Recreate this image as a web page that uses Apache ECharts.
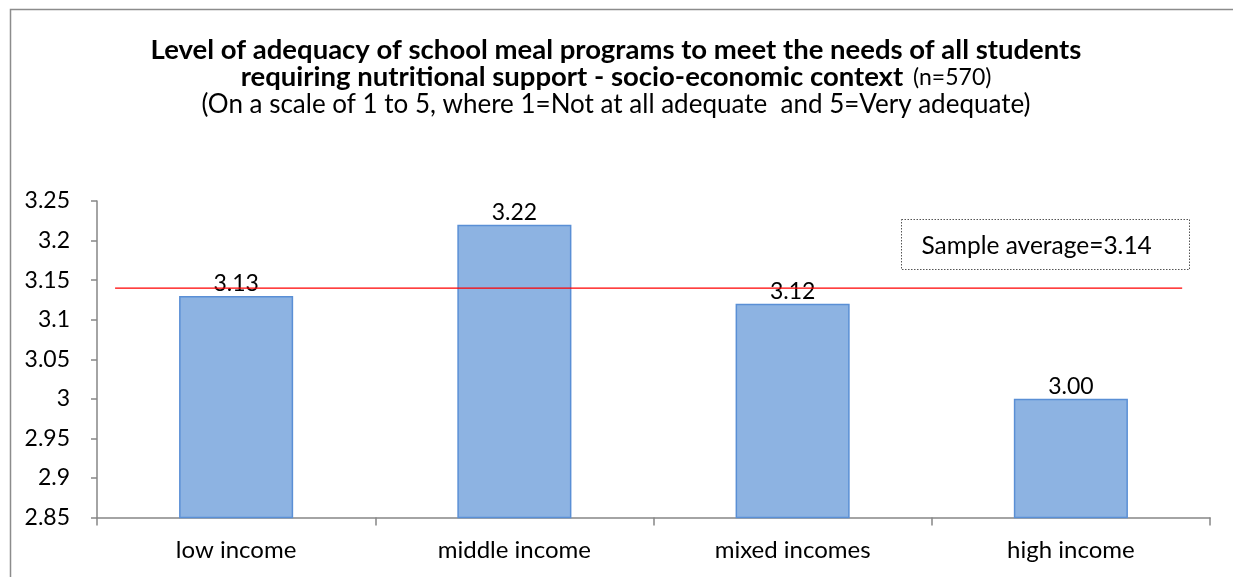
<!DOCTYPE html>
<html>
<head>
<meta charset="utf-8">
<script src="https://cdn.jsdelivr.net/npm/echarts@6/dist/echarts.min.js"></script>
<style>
  html, body { margin: 0; padding: 0; background: #fff; }
  #chart { width: 1233px; height: 577px; }
</style>
</head>
<body>
<div id="chart"></div>
<script>
// Categories and mean adequacy scores by socio-economic context
const categories = ['low income', 'middle income', 'mixed incomes', 'high income'];
const meanScores = [3.13, 3.22, 3.12, 3.00];

// Sample average reference line (value, and its horizontal extent in category units)
const sampleAverage = 3.14;
const averageSpan = [0.065, 3.9];

// Value axis ticks
const yMin = 2.85, yMax = 3.25, yStep = 0.05;

const FONT = 'Lato, "Open Sans", sans-serif';

const chart = echarts.init(document.getElementById('chart'), null, { renderer: 'canvas' });

chart.setOption({
  animation: false,
  backgroundColor: '#ffffff',
  textStyle: { fontFamily: FONT },
  graphic: [
    {
      type: 'rect',
      left: 8, top: 7,
      shape: { width: 1240, height: 600 },
      style: { fill: 'none', stroke: '#8c8c8c', lineWidth: 1.5 },
      silent: true
    },
    {
      // Chart title (three centred lines)
      type: 'text',
      x: 616, y: 37,
      style: {
        align: 'center',
        verticalAlign: 'top',
        text: '{b|Level of adequacy of school meal programs to meet the needs of all students}\n' +
              '{b|requiring nutritional support - socio-economic context}{s| (n=570)}\n' +
              '{n|(On a scale of 1 to 5, where 1=Not at all adequate  and 5=Very adequate)}',
        rich: {
          b: { fontFamily: FONT, fontSize: 27.5, fontWeight: 'bold', fill: '#000', lineHeight: 27, align: 'center' },
          s: { fontFamily: FONT, fontSize: 23, fontWeight: 'normal', fill: '#000', lineHeight: 27, padding: [0, 0, 0, 4] },
          n: { fontFamily: FONT, fontSize: 26, fontWeight: 'normal', fill: '#000', lineHeight: 27, align: 'center' }
        }
      },
      silent: true
    },
    {
      type: 'group',
      left: 901, top: 219,
      children: [
        {
          type: 'rect',
          shape: { width: 288, height: 50 },
          style: { fill: '#fff', stroke: '#555', lineWidth: 1, lineDash: [1.5, 1.5] }
        },
        {
          type: 'text',
          x: 20, y: 27,
          style: {
            text: 'Sample average=' + sampleAverage.toFixed(2),
            font: '24.5px ' + FONT, fill: '#000', verticalAlign: 'middle'
          }
        }
      ]
    }
  ],
  grid: { left: 97, right: 23, top: 201, bottom: 59.5, containLabel: false },
  xAxis: [
    {
      type: 'category',
      data: categories,
      axisLine: { lineStyle: { color: '#868686', width: 1.5 } },
      axisTick: { show: true, length: 8, alignWithLabel: false, lineStyle: { color: '#868686', width: 1.5 } },
      axisLabel: { color: '#000', fontSize: 24, fontFamily: FONT, margin: 21 },
      splitLine: { show: false }
    },
    {
      type: 'value',
      min: 0, max: 4,
      show: false
    }
  ],
  yAxis: {
    type: 'value',
    min: yMin, max: yMax, interval: yStep,
    axisLine: { show: true, lineStyle: { color: '#868686', width: 1.5 } },
    axisTick: { show: true, length: 6, lineStyle: { color: '#868686', width: 1.5 } },
    axisLabel: {
      color: '#000', fontSize: 23, fontFamily: FONT, margin: 27,
      formatter: v => String(parseFloat(v.toFixed(2)))
    },
    splitLine: { show: false }
  },
  series: [
    {
      type: 'bar',
      data: meanScores,
      barWidth: '41%',
      itemStyle: { color: '#8db3e2', borderColor: '#5a8fd5', borderWidth: 1.5 },
      label: {
        show: true, position: 'top', distance: 1,
        color: '#000', fontSize: 23, fontFamily: FONT,
        formatter: p => p.value.toFixed(2)
      },
      z: 2
    },
    {
      type: 'line',
      xAxisIndex: 1,
      data: averageSpan.map(x => [x, sampleAverage]),
      symbol: 'none',
      lineStyle: { color: '#ff0000', width: 1.2 },
      z: 3,
      silent: true
    }
  ]
});
</script>
</body>
</html>
